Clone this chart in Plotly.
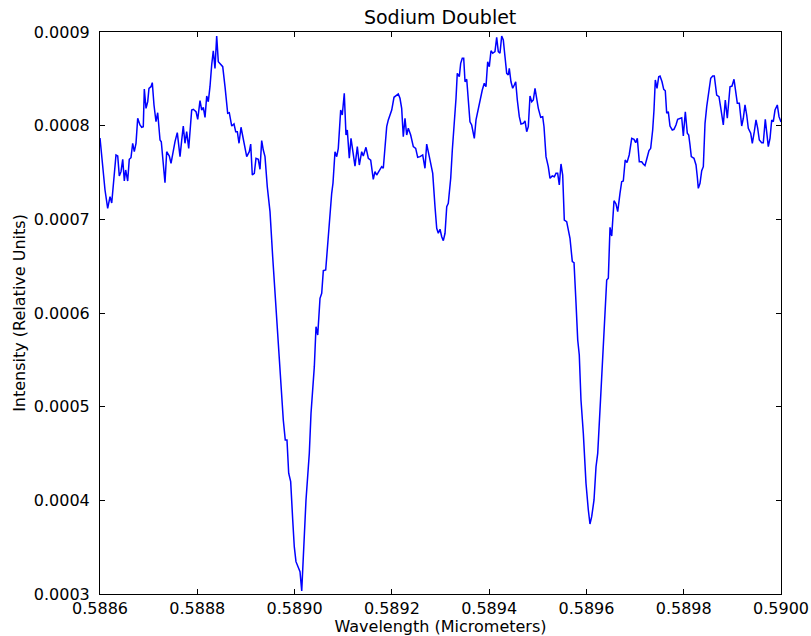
import plotly.graph_objects as go

# Sodium D-line spectrum: wavelength (micrometers) and relative intensity
wavelength = [
    0.5886000, 0.5886103, 0.5886158, 0.5886206, 0.5886241, 0.5886288, 0.5886329, 0.5886364,
    0.5886397, 0.5886432, 0.5886467, 0.5886500, 0.5886528, 0.5886569, 0.5886602, 0.5886637,
    0.5886672, 0.5886705, 0.5886740, 0.5886775, 0.5886822, 0.5886857, 0.5886890, 0.5886911,
    0.5886946, 0.5886981, 0.5887007, 0.5887048, 0.5887075, 0.5887110, 0.5887151, 0.5887186,
    0.5887234, 0.5887260, 0.5887301, 0.5887336, 0.5887371, 0.5887425, 0.5887460, 0.5887507,
    0.5887542, 0.5887589, 0.5887610, 0.5887645, 0.5887680, 0.5887712, 0.5887747, 0.5887782,
    0.5887824, 0.5887850, 0.5887885, 0.5887918, 0.5887974, 0.5888009, 0.5888056, 0.5888091,
    0.5888124, 0.5888159, 0.5888194, 0.5888226, 0.5888261, 0.5888296, 0.5888329, 0.5888364,
    0.5888399, 0.5888432, 0.5888481, 0.5888523, 0.5888570, 0.5888625, 0.5888658, 0.5888708,
    0.5888755, 0.5888790, 0.5888823, 0.5888858, 0.5888899, 0.5888934, 0.5888981, 0.5889016,
    0.5889069, 0.5889098, 0.5889131, 0.5889172, 0.5889207, 0.5889254, 0.5889289, 0.5889324,
    0.5889357, 0.5889392, 0.5889439, 0.5889495, 0.5889550, 0.5889633, 0.5889715, 0.5889768,
    0.5889809, 0.5889844, 0.5889879, 0.5889920, 0.5889962, 0.5889994, 0.5890029, 0.5890077,
    0.5890112, 0.5890147, 0.5890179, 0.5890235, 0.5890303, 0.5890338, 0.5890406, 0.5890441,
    0.5890476, 0.5890488, 0.5890523, 0.5890558, 0.5890591, 0.5890640, 0.5890681, 0.5890728,
    0.5890763, 0.5890790, 0.5890831, 0.5890866, 0.5890899, 0.5890948, 0.5890981, 0.5891022,
    0.5891057, 0.5891084, 0.5891125, 0.5891160, 0.5891195, 0.5891242, 0.5891290, 0.5891331,
    0.5891380, 0.5891413, 0.5891468, 0.5891516, 0.5891565, 0.5891618, 0.5891653, 0.5891688,
    0.5891742, 0.5891791, 0.5891824, 0.5891859, 0.5891894, 0.5891927, 0.5891962, 0.5891997,
    0.5892044, 0.5892100, 0.5892132, 0.5892167, 0.5892202, 0.5892235, 0.5892270, 0.5892305,
    0.5892338, 0.5892387, 0.5892441, 0.5892490, 0.5892531, 0.5892579, 0.5892634, 0.5892681,
    0.5892716, 0.5892770, 0.5892840, 0.5892887, 0.5892922, 0.5892955, 0.5892990, 0.5893025,
    0.5893058, 0.5893093, 0.5893128, 0.5893160, 0.5893210, 0.5893243, 0.5893284, 0.5893319,
    0.5893345, 0.5893387, 0.5893415, 0.5893448, 0.5893477, 0.5893504, 0.5893539, 0.5893572,
    0.5893606, 0.5893641, 0.5893674, 0.5893695, 0.5893730, 0.5893777, 0.5893812, 0.5893859,
    0.5893900, 0.5893935, 0.5893970, 0.5894003, 0.5894038, 0.5894073, 0.5894120, 0.5894155,
    0.5894188, 0.5894223, 0.5894258, 0.5894291, 0.5894326, 0.5894361, 0.5894394, 0.5894414,
    0.5894449, 0.5894484, 0.5894517, 0.5894546, 0.5894579, 0.5894620, 0.5894655, 0.5894702,
    0.5894737, 0.5894772, 0.5894805, 0.5894840, 0.5894875, 0.5894908, 0.5894943, 0.5894978,
    0.5895011, 0.5895060, 0.5895101, 0.5895128, 0.5895169, 0.5895216, 0.5895251, 0.5895298,
    0.5895340, 0.5895374, 0.5895409, 0.5895442, 0.5895477, 0.5895512, 0.5895545, 0.5895594,
    0.5895662, 0.5895710, 0.5895745, 0.5895786, 0.5895821, 0.5895853, 0.5895888, 0.5895936,
    0.5895991, 0.5896039, 0.5896073, 0.5896108, 0.5896156, 0.5896197, 0.5896232, 0.5896293,
    0.5896347, 0.5896417, 0.5896450, 0.5896485, 0.5896520, 0.5896567, 0.5896608, 0.5896643,
    0.5896690, 0.5896725, 0.5896758, 0.5896797, 0.5896834, 0.5896879, 0.5896931, 0.5896978,
    0.5897013, 0.5897046, 0.5897087, 0.5897136, 0.5897169, 0.5897204, 0.5897239, 0.5897286,
    0.5897321, 0.5897362, 0.5897389, 0.5897416, 0.5897451, 0.5897486, 0.5897513, 0.5897554,
    0.5897589, 0.5897621, 0.5897650, 0.5897683, 0.5897718, 0.5897765, 0.5897800, 0.5897841,
    0.5897876, 0.5897924, 0.5897959, 0.5897992, 0.5898033, 0.5898074, 0.5898103, 0.5898129,
    0.5898156, 0.5898211, 0.5898253, 0.5898279, 0.5898300, 0.5898335, 0.5898370, 0.5898403,
    0.5898438, 0.5898473, 0.5898505, 0.5898555, 0.5898596, 0.5898629, 0.5898678, 0.5898725,
    0.5898760, 0.5898787, 0.5898814, 0.5898855, 0.5898896, 0.5898952, 0.5898993, 0.5899034,
    0.5899069, 0.5899102, 0.5899143, 0.5899192, 0.5899225, 0.5899260, 0.5899295, 0.5899328,
    0.5899377, 0.5899410, 0.5899451, 0.5899486, 0.5899521, 0.5899554, 0.5899603, 0.5899636,
    0.5899677, 0.5899706, 0.5899739, 0.5899774, 0.5899809, 0.5899842, 0.5899877, 0.5899924,
    0.5899959, 0.5900000,
]

intensity = [
    7.868e-4, 7.313e-4, 7.118e-4, 7.242e-4, 7.174e-4, 7.495e-4, 7.687e-4, 7.676e-4,
    7.463e-4, 7.509e-4, 7.641e-4, 7.409e-4, 7.527e-4, 7.409e-4, 7.641e-4, 7.658e-4,
    7.812e-4, 7.722e-4, 7.812e-4, 8.079e-4, 8.007e-4, 7.983e-4, 7.989e-4, 8.391e-4,
    8.185e-4, 8.256e-4, 8.399e-4, 8.416e-4, 8.459e-4, 8.221e-4, 8.042e-4, 8.138e-4,
    7.847e-4, 7.829e-4, 7.562e-4, 7.391e-4, 7.722e-4, 7.676e-4, 7.598e-4, 7.740e-4,
    7.829e-4, 7.925e-4, 7.812e-4, 7.669e-4, 7.847e-4, 7.996e-4, 7.812e-4, 7.936e-4,
    7.758e-4, 7.989e-4, 8.167e-4, 8.175e-4, 8.149e-4, 8.068e-4, 8.267e-4, 8.167e-4,
    8.196e-4, 8.089e-4, 8.317e-4, 8.256e-4, 8.416e-4, 8.648e-4, 8.800e-4, 8.612e-4,
    8.957e-4, 8.683e-4, 8.658e-4, 8.630e-4, 8.416e-4, 8.132e-4, 8.138e-4, 7.996e-4,
    8.018e-4, 7.936e-4, 7.936e-4, 7.812e-4, 7.983e-4, 7.890e-4, 7.748e-4, 7.669e-4,
    7.722e-4, 7.804e-4, 7.473e-4, 7.491e-4, 7.652e-4, 7.641e-4, 7.534e-4, 7.840e-4,
    7.740e-4, 7.669e-4, 7.348e-4, 7.082e-4, 6.601e-4, 5.890e-4, 5.285e-4, 4.858e-4,
    4.644e-4, 4.644e-4, 4.289e-4, 4.199e-4, 3.790e-4, 3.505e-4, 3.345e-4, 3.292e-4,
    3.238e-4, 3.032e-4, 3.398e-4, 4.004e-4, 4.502e-4, 4.929e-4, 5.427e-4, 5.854e-4,
    5.765e-4, 5.854e-4, 6.157e-4, 6.210e-4, 6.452e-4, 6.459e-4, 6.744e-4, 7.028e-4,
    7.278e-4, 7.388e-4, 7.722e-4, 7.669e-4, 7.758e-4, 8.167e-4, 8.114e-4, 8.346e-4,
    7.900e-4, 7.954e-4, 7.652e-4, 7.865e-4, 7.722e-4, 7.569e-4, 7.776e-4, 7.580e-4,
    7.722e-4, 7.676e-4, 7.769e-4, 7.652e-4, 7.633e-4, 7.427e-4, 7.509e-4, 7.473e-4,
    7.519e-4, 7.562e-4, 7.545e-4, 7.758e-4, 7.989e-4, 8.061e-4, 8.114e-4, 8.167e-4,
    8.303e-4, 8.327e-4, 8.338e-4, 8.292e-4, 8.185e-4, 7.882e-4, 8.079e-4, 7.900e-4,
    7.972e-4, 7.900e-4, 7.776e-4, 7.758e-4, 7.662e-4, 7.669e-4, 7.687e-4, 7.545e-4,
    7.804e-4, 7.669e-4, 7.491e-4, 7.135e-4, 6.904e-4, 6.851e-4, 6.894e-4, 6.815e-4,
    6.772e-4, 6.851e-4, 7.135e-4, 7.171e-4, 7.438e-4, 7.740e-4, 7.989e-4, 8.292e-4,
    8.559e-4, 8.523e-4, 8.666e-4, 8.719e-4, 8.719e-4, 8.469e-4, 8.495e-4, 8.274e-4,
    8.042e-4, 8.007e-4, 7.936e-4, 7.865e-4, 8.061e-4, 8.185e-4, 8.292e-4, 8.381e-4,
    8.452e-4, 8.416e-4, 8.683e-4, 8.630e-4, 8.800e-4, 8.773e-4, 8.790e-4, 8.943e-4,
    8.790e-4, 8.773e-4, 8.957e-4, 8.915e-4, 8.736e-4, 8.559e-4, 8.541e-4, 8.612e-4,
    8.469e-4, 8.399e-4, 8.434e-4, 8.469e-4, 8.274e-4, 8.096e-4, 8.018e-4, 8.025e-4,
    8.050e-4, 7.936e-4, 7.989e-4, 8.317e-4, 8.256e-4, 8.274e-4, 8.399e-4, 8.274e-4,
    8.185e-4, 8.089e-4, 8.096e-4, 7.989e-4, 7.669e-4, 7.562e-4, 7.438e-4, 7.463e-4,
    7.455e-4, 7.491e-4, 7.491e-4, 7.367e-4, 7.591e-4, 7.473e-4, 6.993e-4, 6.975e-4,
    6.798e-4, 6.548e-4, 6.537e-4, 6.104e-4, 5.712e-4, 5.552e-4, 5.071e-4, 4.716e-4,
    4.182e-4, 3.897e-4, 3.747e-4, 3.825e-4, 4.004e-4, 4.359e-4, 4.502e-4, 5.106e-4,
    5.712e-4, 6.352e-4, 6.371e-4, 6.915e-4, 6.822e-4, 7.199e-4, 7.164e-4, 7.082e-4,
    7.278e-4, 7.402e-4, 7.409e-4, 7.633e-4, 7.605e-4, 7.687e-4, 7.865e-4, 7.854e-4,
    7.818e-4, 7.865e-4, 7.615e-4, 7.615e-4, 7.591e-4, 7.573e-4, 7.641e-4, 7.733e-4,
    7.758e-4, 7.954e-4, 8.167e-4, 8.488e-4, 8.399e-4, 8.523e-4, 8.530e-4, 8.469e-4,
    8.388e-4, 8.373e-4, 8.132e-4, 8.149e-4, 7.996e-4, 7.954e-4, 7.961e-4, 8.007e-4,
    8.068e-4, 8.079e-4, 8.085e-4, 7.890e-4, 8.149e-4, 7.919e-4, 7.900e-4, 7.794e-4,
    7.669e-4, 7.652e-4, 7.580e-4, 7.455e-4, 7.331e-4, 7.385e-4, 7.519e-4, 7.562e-4,
    8.025e-4, 8.203e-4, 8.346e-4, 8.506e-4, 8.530e-4, 8.530e-4, 8.327e-4, 8.309e-4,
    8.196e-4, 8.079e-4, 8.007e-4, 8.274e-4, 8.079e-4, 8.416e-4, 8.423e-4, 8.495e-4,
    8.352e-4, 8.239e-4, 8.239e-4, 7.996e-4, 8.079e-4, 8.221e-4, 8.114e-4, 7.972e-4,
    7.919e-4, 7.812e-4, 7.936e-4, 8.061e-4, 7.972e-4, 7.847e-4, 7.818e-4, 7.818e-4,
    8.068e-4, 7.919e-4, 7.776e-4, 7.865e-4, 8.061e-4, 8.042e-4, 8.167e-4, 8.221e-4,
    8.096e-4, 8.039e-4,
]

x_range = [0.5886, 0.5900]
y_range = [0.0003, 0.0009]
x_ticks = [0.5886, 0.5888, 0.5890, 0.5892, 0.5894, 0.5896, 0.5898, 0.5900]
y_ticks = [0.0003, 0.0004, 0.0005, 0.0006, 0.0007, 0.0008, 0.0009]

FONT = "DejaVu Sans"

fig = go.Figure(
    go.Scatter(
        x=wavelength,
        y=intensity,
        mode="lines",
        line=dict(color="#0000ff", width=1.5),
        hoverinfo="x+y",
    )
)

axis_common = dict(
    showgrid=False,
    zeroline=False,
    showline=True,
    linecolor="black",
    linewidth=1,
    mirror="ticks",
    ticks="inside",
    ticklen=5,
    tickwidth=1,
    tickcolor="black",
    tickfont=dict(family=FONT, size=16, color="black"),
    automargin=False,
)

fig.update_layout(
    width=811,
    height=636,
    margin=dict(l=100, r=30, t=32, b=42),
    paper_bgcolor="white",
    plot_bgcolor="white",
    showlegend=False,
    font=dict(family=FONT, color="black"),
    title=dict(
        text="Sodium Doublet",
        font=dict(family=FONT, size=19, color="black"),
        x=0.5427,
        xanchor="center",
        y=1 - 17 / 636,
        yanchor="middle",
        yref="container",
    ),
    xaxis=dict(
        range=x_range,
        tickvals=x_ticks,
        ticktext=[f"{v:.4f}" for v in x_ticks],
        title=dict(text="Wavelength (Micrometers)",
                   font=dict(family=FONT, size=16, color="black"),
                   standoff=6),
        ticklabelstandoff=0,
        **axis_common,
    ),
    yaxis=dict(
        range=y_range,
        tickvals=y_ticks,
        ticktext=[f"{v:.4f}" for v in y_ticks],
        title=dict(text="Intensity (Relative Units)",
                   font=dict(family=FONT, size=16, color="black"),
                   standoff=4),
        ticklabelstandoff=6,
        **axis_common,
    ),
)

fig.write_html("out.html")
